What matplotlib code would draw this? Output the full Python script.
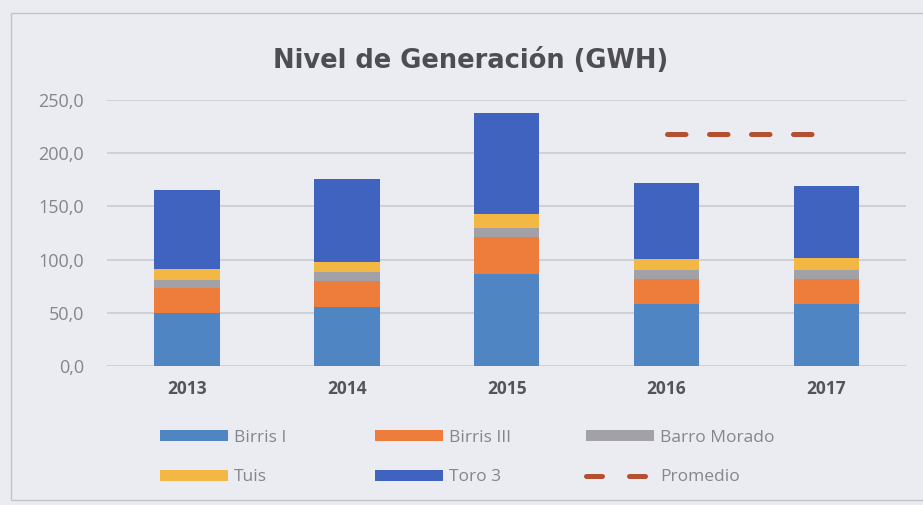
import matplotlib
matplotlib.use("Agg")
import matplotlib.pyplot as plt
import numpy as np
from matplotlib.patches import Rectangle
from matplotlib.lines import Line2D

# values (GWh)
years = ["2013", "2014", "2015", "2016", "2017"]
birris_1 = [50, 56, 87, 58, 58]
birris_3 = [23, 24, 34, 24, 24]
barro_morado = [8, 8, 8.5, 8.5, 8]
tuis = [10, 10, 13, 10.5, 12]
toro_3 = [74, 78, 95, 71, 67]
promedio = [np.nan, np.nan, np.nan, 218, 218]

series = [
    ("Birris I", birris_1, "#4f85c2"),
    ("Birris III", birris_3, "#ee7d3c"),
    ("Barro Morado", barro_morado, "#a3a1a8"),
    ("Tuis", tuis, "#f2b843"),
    ("Toro 3", toro_3, "#4063bf"),
]
yticks = [0, 50, 100, 150, 200, 250]
ytick_labels = ["0,0", "50,0", "100,0", "150,0", "200,0", "250,0"]

BG = "#eaecf1"
GRID = "#cbc8d0"
PROM = "#b4502f"
plt.rcParams["font.family"] = ["Open Sans", "DejaVu Sans"]

fig = plt.figure(figsize=(9.23, 5.05), dpi=100, facecolor=BG)
ax = fig.add_axes([0.116, 0.275, 0.866, 0.527])
ax.set_facecolor(BG)

# chart frame
fig.patches.append(Rectangle((0.012, 0.01), 1.2, 0.965, transform=fig.transFigure,
                             fill=False, edgecolor="#c3c3c8", linewidth=1.0))

x = np.arange(len(years))
bottom = np.zeros(len(years))
handles = []
for name, vals, color in series:
    b = ax.bar(x, vals, width=0.41, bottom=bottom, color=color, label=name, zorder=3)
    handles.append(b)
    bottom += np.array(vals)

ax.plot(x, promedio, color=PROM, linewidth=3.6, linestyle=(0, (3.7, 4.7)),
        dash_capstyle="round", label="Promedio", zorder=4)

ax.set_xlim(-0.5, 4.5)
ax.set_ylim(0, 250)
ax.set_yticks(yticks)
ax.set_yticklabels(ytick_labels)
ax.set_xticks(x)
ax.set_xticklabels(years, fontweight="bold")
ax.tick_params(axis="y", length=0, pad=16.5, labelsize=13, labelcolor="#85858b")
ax.tick_params(axis="x", length=0, pad=10, labelsize=12.5, labelcolor="#555559")
ax.yaxis.grid(True, color=GRID, linewidth=1.1, zorder=0)
for s in ax.spines.values():
    s.set_visible(False)

fig.text(0.51, 1 - 68 / 505, "Nivel de Generación (GWH)", ha="center", va="baseline",
         fontsize=18.5, fontweight="bold", color="#4d4d52", family="DejaVu Sans")

# legend proxy for the dashed average line (two dashes like the reference)
prom_handle = Line2D([], [], color=PROM, linewidth=3.6, linestyle=(0, (3.2, 5.4)),
                     dash_capstyle="round")

# one small legend per column so the columns sit where the reference has them
columns = [
    ([handles[0], handles[3]], ["Birris I", "Tuis"], 160),
    ([handles[1], handles[4]], ["Birris III", "Toro 3"], 375),
    ([handles[2], prom_handle], ["Barro Morado", "Promedio"], 586),
]
for hs, ls, px in columns:
    leg = fig.legend(hs, ls, loc="upper left", bbox_to_anchor=(px / 923, 1 - 430 / 505),
                     frameon=False, fontsize=12.5, handlelength=3.9, handleheight=0.6,
                     labelspacing=1.35, handletextpad=0.35, borderpad=0, borderaxespad=0)
    for t in leg.get_texts():
        t.set_color("#85858b")

fig.savefig("out.png", dpi=100, facecolor=BG)
